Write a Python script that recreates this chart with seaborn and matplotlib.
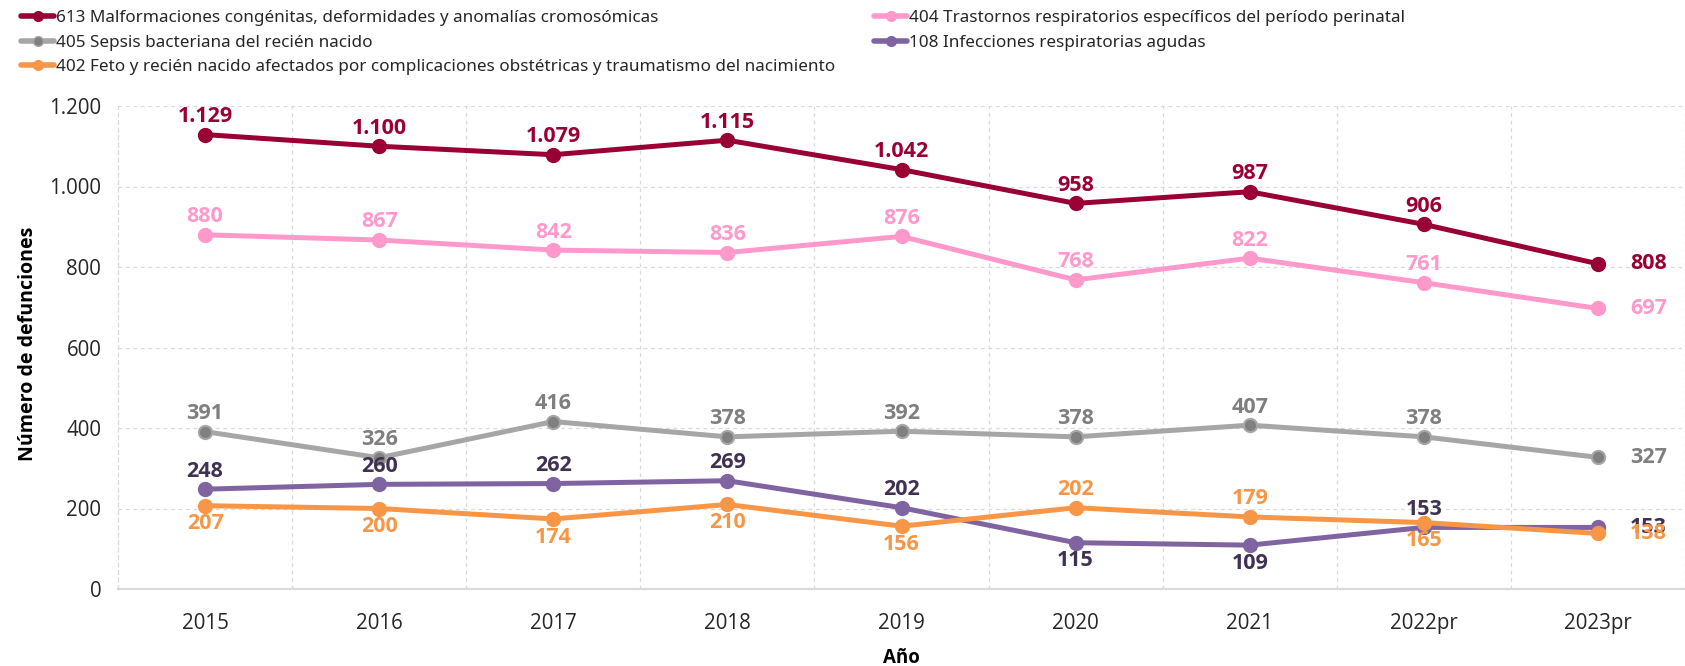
import matplotlib
matplotlib.use("Agg")
import matplotlib.pyplot as plt
import matplotlib.transforms as mtransforms
import seaborn as sns
import pandas as pd
from matplotlib.lines import Line2D

years = ["2015", "2016", "2017", "2018", "2019", "2020", "2021", "2022pr", "2023pr"]

causes = [
    "613 Malformaciones congénitas, deformidades y anomalías cromosómicas",
    "404 Trastornos respiratorios específicos del período perinatal",
    "405 Sepsis bacteriana del recién nacido",
    "108 Infecciones respiratorias agudas",
    "402 Feto y recién nacido afectados por complicaciones obstétricas y traumatismo del nacimiento",
]

malformaciones = [1129, 1100, 1079, 1115, 1042, 958, 987, 906, 808]
trastornos_resp = [880, 867, 842, 836, 876, 768, 822, 761, 697]
sepsis = [391, 326, 416, 378, 392, 378, 407, 378, 327]
infecciones = [248, 260, 262, 269, 202, 115, 109, 153, 153]
complicaciones = [207, 200, 174, 210, 156, 202, 179, 165, 138]

series = [malformaciones, trastornos_resp, sepsis, infecciones, complicaciones]

line_colors = ["#990033", "#FF99CC", "#A6A6A6", "#8064A2", "#F79646"]
marker_colors = ["#990033", "#FF99CC", "#808080", "#8064A2", "#F79646"]
label_colors = ["#990033", "#FF99CC", "#7F7F7F", "#403152", "#F79646"]

# label placement per point: "a" above, "b" below (last point goes to the right)
placement = [
    ["a"] * 8,
    ["a"] * 8,
    ["a"] * 8,
    ["a", "a", "a", "a", "a", "b", "b", "a"],
    ["b", "b", "b", "b", "b", "a", "a", "b"],
]

rows = []
for cause, vals in zip(causes, series):
    for i, v in enumerate(vals):
        rows.append({"Año": i, "Causa": cause, "Defunciones": v})
df = pd.DataFrame(rows)

sns.set_theme(style="white")
plt.rcParams["font.family"] = ["Open Sans", "DejaVu Sans"]

W, H = 1685, 666
fig = plt.figure(figsize=(W / 100, H / 100), dpi=100)
ax = fig.add_axes([118 / W, (H - 589) / H, (W - 118) / W, (589 - 106) / H])

sns.lineplot(data=df, x="Año", y="Defunciones", hue="Causa", hue_order=causes,
             palette=line_colors, linewidth=3.6, ax=ax, legend=False, zorder=3)

for line, mc in zip(ax.get_lines(), marker_colors):
    line.set_marker("o")
    line.set_markersize(9.5)
    line.set_markerfacecolor(mc)
    line.set_markeredgecolor(line.get_color())
    line.set_markeredgewidth(1.5)
    line.set_solid_capstyle("butt")


def fmt(v):
    return f"{v:,}".replace(",", ".")


for vals, col, places in zip(series, label_colors, placement):
    for i, v in enumerate(vals):
        if i == len(vals) - 1:
            ax.annotate(fmt(v), (i, v), xytext=(23, 0), textcoords="offset points",
                        ha="left", va="center", color=col, fontsize=15.5,
                        fontweight="bold", zorder=5)
        else:
            dy = 13 if places[i] == "a" else -13
            ax.annotate(fmt(v), (i, v), xytext=(0, dy), textcoords="offset points",
                        ha="center", va="center", color=col, fontsize=15.5,
                        fontweight="bold", zorder=5)

ax.set_xlim(-0.5, 8.45)
ax.set_ylim(0, 1200)
ax.set_yticks(range(0, 1201, 200))
ax.set_yticklabels([fmt(v) for v in range(0, 1201, 200)], fontsize=14.8, color="#262626")
ax.set_xticks(range(len(years)))
ax.set_xticklabels(years, fontsize=14.8, color="#262626")
ax.tick_params(axis="x", pad=17, length=0)
ax.tick_params(axis="y", pad=12, length=0)

ax.set_xticks([i + 0.5 for i in range(len(years))], minor=True)
ax.grid(True, which="major", axis="y", color="#D9D9D9", linestyle=(0, (3, 3)), linewidth=0.9)
ax.grid(True, which="minor", axis="x", color="#D9D9D9", linestyle=(0, (3, 3)), linewidth=0.9)
ax.tick_params(axis="x", which="minor", length=0)
ax.set_axisbelow(True)
for s in ["top", "right"]:
    ax.spines[s].set_visible(False)
ax.spines["left"].set_color("#D9D9D9")
ax.spines["left"].set_linestyle((0, (3, 3)))
ax.spines["left"].set_linewidth(0.9)
ax.spines["bottom"].set_color("#D9D9D9")
ax.spines["bottom"].set_linewidth(1.5)

ax.set_xlabel("Año", fontsize=13.5, fontweight="bold", color="black", va="center")
ax.xaxis.set_label_coords(
    4, -(658 - 589) / (589 - 106),
    transform=mtransforms.blended_transform_factory(ax.transData, ax.transAxes))
ax.set_ylabel("Número de defunciones", fontsize=14.1, fontweight="bold", color="black",
              va="center")
ax.yaxis.set_label_coords(-(118 - 28) / (W - 118), 0.508)


def handle(i):
    return Line2D([], [], color=line_colors[i], linewidth=4, marker="o", markersize=7,
                  markerfacecolor=marker_colors[i], markeredgecolor=line_colors[i])


leg_kw = dict(frameon=False, handlelength=1.95, handletextpad=0.12,
              labelspacing=0.5, borderaxespad=0, borderpad=0,
              prop={"family": ["Noto Sans", "DejaVu Sans"], "size": 12.3})
leg1 = fig.legend([handle(0), handle(2), handle(4)], [causes[0], causes[2], causes[4]],
                  loc="upper left", bbox_to_anchor=(21 / W, 1 - 10 / H), **leg_kw)
leg2 = fig.legend([handle(1), handle(3)], [causes[1], causes[3]],
                  loc="upper left", bbox_to_anchor=(874 / W, 1 - 10 / H), **leg_kw)

fig.savefig("out.png", dpi=100)
